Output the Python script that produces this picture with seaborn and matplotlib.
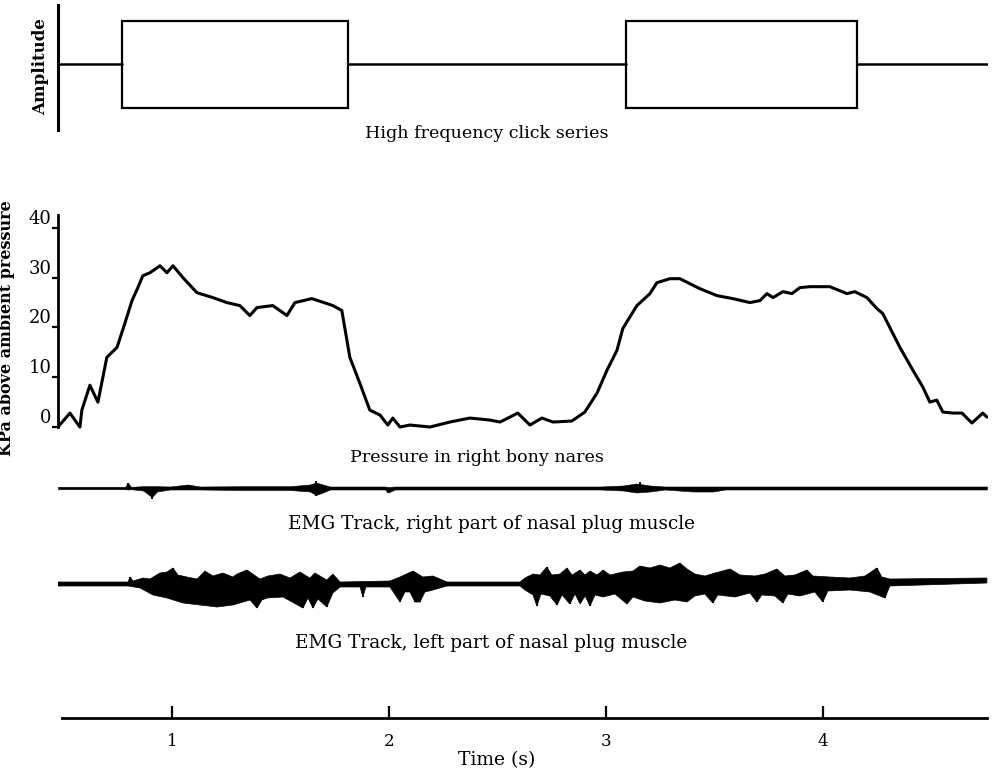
import matplotlib
matplotlib.use("Agg")
import numpy as np
import pandas as pd
import seaborn as sns
import matplotlib.pyplot as plt

# ---------------- data ----------------
# click series (seconds)
click_start = [0.770, 3.092]
click_end = [1.811, 4.157]
click_amp = 1.0

# pressure in right bony nares (kPa) vs time (s)
press_t = [0.475, 0.530, 0.576, 0.585, 0.622, 0.659, 0.700, 0.747, 0.783, 0.816,
           0.843, 0.866, 0.899, 0.945, 0.977, 1.005, 1.051, 1.115, 1.189, 1.253,
           1.313, 1.359, 1.392, 1.465, 1.530, 1.567, 1.645, 1.742, 1.783, 1.820,
           1.866, 1.912, 1.959, 1.995, 2.018, 2.051, 2.097, 2.189, 2.281, 2.373,
           2.465, 2.512, 2.558, 2.594, 2.650, 2.705, 2.756, 2.843, 2.903, 2.959,
           3.005, 3.051, 3.078, 3.143, 3.203, 3.235, 3.295, 3.341, 3.433, 3.512,
           3.585, 3.664, 3.710, 3.742, 3.770, 3.816, 3.857, 3.894, 3.940, 4.032,
           4.111, 4.147, 4.203, 4.249, 4.276, 4.355, 4.415, 4.461, 4.493, 4.525,
           4.553, 4.599, 4.641, 4.687, 4.737, 4.756]
press_kpa = [0.0, 2.8, 0.0, 3.4, 8.4, 5.0, 14.0, 16.0, 20.8, 25.4,
             28.0, 30.4, 31.0, 32.4, 31.0, 32.4, 30.0, 27.0, 26.0, 25.0,
             24.4, 22.4, 24.0, 24.4, 22.4, 25.0, 25.8, 24.4, 23.4, 14.0,
             8.8, 3.4, 2.4, 0.4, 1.8, 0.0, 0.4, 0.0, 1.0, 1.8,
             1.4, 1.0, 2.0, 2.8, 0.4, 1.8, 1.0, 1.2, 3.0, 6.8,
             11.4, 15.4, 19.8, 24.4, 26.8, 29.0, 29.8, 29.8, 27.8, 26.4,
             25.8, 25.0, 25.4, 26.8, 26.0, 27.2, 26.8, 28.0, 28.2, 28.2,
             26.8, 27.2, 26.0, 23.8, 22.8, 16.0, 11.4, 8.0, 5.0, 5.4,
             3.0, 2.8, 2.8, 0.8, 2.8, 2.0]

# EMG right part: envelope (arbitrary units)
emg_r_t = [0.475, 0.669, 0.784, 0.798, 0.811, 0.867, 0.908, 0.931, 0.991, 1.074,
           1.129, 1.313, 1.544, 1.636, 1.664, 1.696, 1.728, 1.982, 1.996, 2.028,
           2.512, 2.973, 3.079, 3.139, 3.203, 3.272, 3.401, 3.493, 3.549, 4.756]
emg_r_hi = [1.2, 1.2, 1.2, 5, 1.2, 1.8, 1.8, 1.8, 1.5, 3.5,
            1.5, 1.8, 1.8, 3.5, 5.5, 3.5, 1.5, 1.5, 1, 1.5,
            1.5, 1.5, 2.5, 4.5, 2.5, 1.5, 1.5, 1.5, 1.5, 1.5]
emg_r_lo = [-1.2, -1.2, -1.2, -1.5, -1.2, -2.5, -9, -3.5, -1.5, -1.5,
            -1.5, -2, -2, -3.5, -7, -4.5, -1.5, -1.5, -4.5, -1.5,
            -1.5, -1.5, -2.5, -4.5, -3.5, -1.5, -3.5, -3.5, -1.5, -1.5]
emg_r_spike_t = [0.798, 0.908, 1.664, 1.664, 1.996, 3.157]
emg_r_spike_v = [5, -11, 7, -8, -5, 6]

# EMG left part: upper and lower envelope edges (arbitrary units)
emg_l_up_t = [0.475, 0.669, 0.798, 0.807, 0.821, 0.867, 0.899, 0.945, 0.977, 1.005,
              1.028, 1.069, 1.116, 1.152, 1.189, 1.235, 1.281, 1.300, 1.346, 1.406,
              1.442, 1.498, 1.544, 1.590, 1.636, 1.659, 1.714, 1.742, 1.775, 2.005,
              2.051, 2.111, 2.157, 2.203, 2.268, 2.604, 2.627, 2.664, 2.696, 2.728,
              2.751, 2.788, 2.821, 2.844, 2.881, 2.904, 2.927, 2.959, 2.987, 3.019,
              3.079, 3.125, 3.157, 3.203, 3.249, 3.295, 3.341, 3.374, 3.410, 3.456,
              3.503, 3.572, 3.618, 3.687, 3.733, 3.788, 3.825, 3.871, 3.927, 3.954,
              4.032, 4.125, 4.194, 4.249, 4.272, 4.309, 4.756]
emg_l_up_v = [2, 2, 2, 7, 3, 6, 5, 11, 12, 16,
              9, 7, 5, 13, 8, 11, 7, 10, 14, 5,
              8, 10, 6, 12, 6, 11, 4, 10, 2, 3,
              7, 13, 7, 8, 2, 2, 6, 10, 9, 17,
              9, 10, 16, 9, 14, 9, 13, 9, 14, 9,
              12, 13, 18, 16, 19, 16, 21, 15, 10, 8,
              11, 15, 9, 8, 10, 15, 8, 9, 14, 8,
              7, 6, 8, 16, 7, 5, 6]
emg_l_dn_t = [0.475, 0.669, 0.798, 0.853, 0.913, 0.977, 1.051, 1.129, 1.208, 1.281,
              1.360, 1.392, 1.415, 1.438, 1.512, 1.604, 1.627, 1.650, 1.673, 1.714,
              1.742, 1.775, 1.867, 1.880, 1.894, 2.005, 2.051, 2.074, 2.097, 2.120,
              2.143, 2.166, 2.203, 2.268, 2.604, 2.627, 2.664, 2.682, 2.701, 2.742,
              2.775, 2.798, 2.834, 2.858, 2.881, 2.904, 2.927, 2.950, 2.987, 3.042,
              3.097, 3.125, 3.180, 3.249, 3.318, 3.374, 3.410, 3.456, 3.493, 3.516,
              3.595, 3.664, 3.696, 3.719, 3.779, 3.816, 3.839, 3.894, 3.963, 4.000,
              4.023, 4.125, 4.217, 4.286, 4.309, 4.756]
emg_l_dn_v = [-2, -2, -2, -4, -11, -14, -19, -21, -23, -21,
              -16, -24, -16, -14, -13, -24, -14, -24, -15, -23,
              -9, -3, -3, -13, -3, -3, -18, -8, -8, -18,
              -18, -8, -6, -2, -2, -6, -11, -22, -10, -12,
              -21, -11, -20, -10, -20, -12, -22, -11, -13, -10,
              -20, -13, -17, -19, -16, -18, -12, -10, -19, -11,
              -13, -9, -18, -11, -12, -19, -10, -12, -8, -18,
              -7, -6, -8, -14, -2, 1]
# EMG left part: individual sharp spikes (time, tip value)
emg_l_spike_t = [0.807, 1.005, 1.346, 1.392, 1.604, 1.650, 1.714, 1.880, 2.051, 2.111,
                 2.120, 2.143, 2.682, 2.728, 2.775, 2.821, 2.834, 2.881, 2.927, 2.987,
                 3.097, 3.341, 3.493, 3.572, 3.696, 3.788, 3.816, 3.927, 4.000, 4.249,
                 4.286]
emg_l_spike_v = [7, 16, 14, -24, -24, -24, -23, -13, -18, 13,
                 -18, -18, -22, 17, -21, 16, -20, 14, -22, 14,
                 -20, 21, -19, 15, -18, 15, -19, 14, -18, 16,
                 -14]

time_ticks = [1, 2, 3, 4]
time_labels = ["1", "2", "3", "4"]
press_ticks = [0, 10, 20, 30, 40]

captions = ["High frequency click series", "Pressure in right bony nares",
            "EMG Track, right part of nasal plug muscle",
            "EMG Track, left part of nasal plug muscle"]

# ---------------- style ----------------
sns.set_theme(style="white")
plt.rcParams["font.family"] = ["DejaVu Serif"]
plt.rcParams["axes.facecolor"] = "white"

fig = plt.figure(figsize=(9.94, 7.73), dpi=100)
L, W = 0.05835, 0.93561
XLIM = (0.475, 4.761)
K = "black"


def clean(ax):
    for s in ax.spines.values():
        s.set_visible(False)
    ax.set_xticks([])
    ax.set_yticks([])
    ax.set_xlim(*XLIM)
    ax.set_xlabel("")
    ax.set_ylabel("")


# ---- click series ----
ax1 = fig.add_axes([L, 0.8318, W, 0.1617])
clean(ax1)
ax1.set_ylim(-1.517, 1.356)
ax1.spines["left"].set_visible(True)
ax1.spines["left"].set_color(K)
ax1.spines["left"].set_linewidth(2.2)
base_x = [XLIM[0], click_start[0], np.nan, click_end[0], click_start[1], np.nan,
          click_end[1], 4.756]
base_y = [0, 0, np.nan, 0, 0, np.nan, 0, 0]
ax1.plot(base_x, base_y, color=K, lw=1.8)
ax1.bar(click_start, [2 * click_amp] * 2,
        width=[e - s for s, e in zip(click_start, click_end)],
        bottom=-click_amp, align="edge", fill=False, edgecolor=K, linewidth=1.6)
fig.text(41 / 994, 1 - 67 / 773, "Amplitude", rotation=90, ha="center",
         va="center", fontsize=12, fontweight="bold", color=K)

# ---- pressure ----
ax2 = fig.add_axes([L, 0.44373, W, 0.27814])
clean(ax2)
ax2.set_ylim(-0.6, 42.6)
df = pd.DataFrame({"t": press_t, "p": press_kpa})
sns.lineplot(data=df, x="t", y="p", ax=ax2, color=K, linewidth=2.2,
             estimator=None, sort=False)
ax2.set_xlabel("")
ax2.set_ylabel("")
ax2.spines["left"].set_visible(True)
ax2.spines["left"].set_color(K)
ax2.spines["left"].set_linewidth(2.0)
ax2.spines["left"].set_bounds(0, 42.6)
ax2.set_yticks(press_ticks)
ax2.set_yticklabels([str(v) for v in press_ticks], va="bottom")
ax2.tick_params(axis="y", left=True, direction="out", length=4, width=1.6,
                pad=0.5, labelsize=13, colors=K)
fig.text(7 / 994, 1 - 328 / 773, "KPa above ambient pressure", rotation=90,
         ha="center", va="center", fontsize=11.5, fontweight="bold", color=K)

# ---- EMG right ----
ax3 = fig.add_axes([L, 0.34605, W, 0.04528])
clean(ax3)
ax3.set_ylim(-17.5, 17.5)
ax3.fill_between(emg_r_t, emg_r_lo, emg_r_hi, color=K, linewidth=0.4)
ax3.vlines(emg_r_spike_t, 0, emg_r_spike_v, color=K, lw=1.3)

# ---- EMG left ----
ax4 = fig.add_axes([L, 0.20569, W, 0.07762])
clean(ax4)
ax4.set_ylim(-30, 30)
ax4.fill(list(emg_l_up_t) + list(emg_l_dn_t)[::-1],
         list(emg_l_up_v) + list(emg_l_dn_v)[::-1],
         color=K, linewidth=0.5)
ax4.vlines(emg_l_spike_t, 0, emg_l_spike_v, color=K, lw=1.5)

# ---- time axis ----
ax5 = fig.add_axes([L, 0.07115, W, 0.02329])
clean(ax5)
ax5.set_ylim(0, 1)
ax5.spines["bottom"].set_visible(True)
ax5.spines["bottom"].set_color(K)
ax5.spines["bottom"].set_linewidth(2.0)
ax5.spines["bottom"].set_bounds(0.493, 4.756)
ax5.set_xticks(time_ticks)
ax5.set_xticklabels(time_labels)
ax5.tick_params(axis="x", bottom=True, direction="in", length=8.5, width=1.6,
                pad=11, labelsize=12, colors=K)

# ---- captions ----
fig.text(487 / 994, 1 - 138 / 773, captions[0], ha="center", va="baseline",
         fontsize=12.6, color=K)
fig.text(477 / 994, 1 - 462 / 773, captions[1], ha="center", va="baseline",
         fontsize=12.6, color=K)
fig.text(492 / 994, 1 - 529 / 773, captions[2], ha="center", va="baseline",
         fontsize=13.3, color=K)
fig.text(491 / 994, 1 - 648 / 773, captions[3], ha="center", va="baseline",
         fontsize=13.3, color=K)
fig.text(497 / 994, 1 - 765 / 773, "Time (s)", ha="center", va="baseline",
         fontsize=13.5, color=K)

fig.savefig("out.png", dpi=100, facecolor="white")
